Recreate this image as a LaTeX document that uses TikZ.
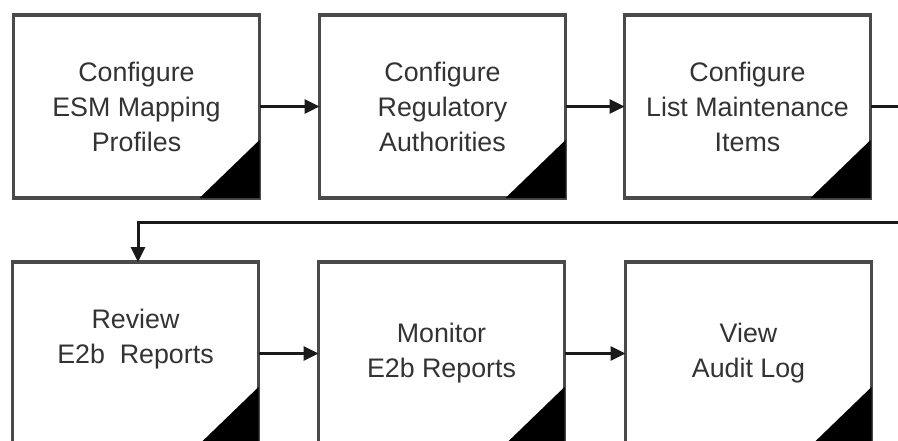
\documentclass[tikz,border=0pt]{standalone}
\usepackage{fontspec}
\setmainfont{Liberation Sans}
\usetikzlibrary{arrows.meta}
\definecolor{boxline}{HTML}{4A4A4A}
\definecolor{txt}{HTML}{333333}
\definecolor{conn}{HTML}{1A1A1A}
\begin{document}
\begin{tikzpicture}[x=1pt,y=-1pt,
  stepbox/.style={draw=boxline, line width=3.2pt, outer sep=0pt, inner sep=0pt,
    minimum width=246pt, minimum height=183pt, align=center, text=txt,
    font=\fontsize{26.8}{35}\selectfont},
  arr/.style={draw=conn, line width=3pt, -{Triangle[length=15pt,width=14pt]}},
  plain/.style={draw=conn, line width=3pt}]
\useasboundingbox (0,0) rectangle (898,440);
\fill[white] (0,0) rectangle (898,440);
\node[stepbox] (b1) at (136.5,106.5) {Configure\\ESM Mapping\\Profiles};
\node[stepbox] (b2) at (442.5,106.5) {Configure\\Regulatory\\Authorities};
\node[stepbox] (b3) at (747.5,106.5) {Configure\\List Maintenance\\Items};
\node[stepbox] (b4) at (135.5,353.5) {Review\\E2b\ \ Reports\\\mbox{}};
\node[stepbox] (b5) at (441.5,353.5) {Monitor\\E2b Reports};
\node[stepbox] (b6) at (748.5,353.5) {View\\Audit Log};
\foreach \n in {b1,b2,b3,b4,b5,b6}
  \fill[black] (\n.south east) -- ++(-60,0) -- ++(60,-58) -- cycle;
\coordinate (r1) at (898,106.5);
\coordinate (r2) at (898,222);
\draw[arr] (b1) -- (b2);
\draw[arr] (b2) -- (b3);
\draw[plain] (b3.east) -- (r1);
\draw[arr] (r2) -| ([xshift=2.5pt]b4.north);
\draw[arr] (b4) -- (b5);
\draw[arr] (b5) -- (b6);
\end{tikzpicture}
\end{document}
